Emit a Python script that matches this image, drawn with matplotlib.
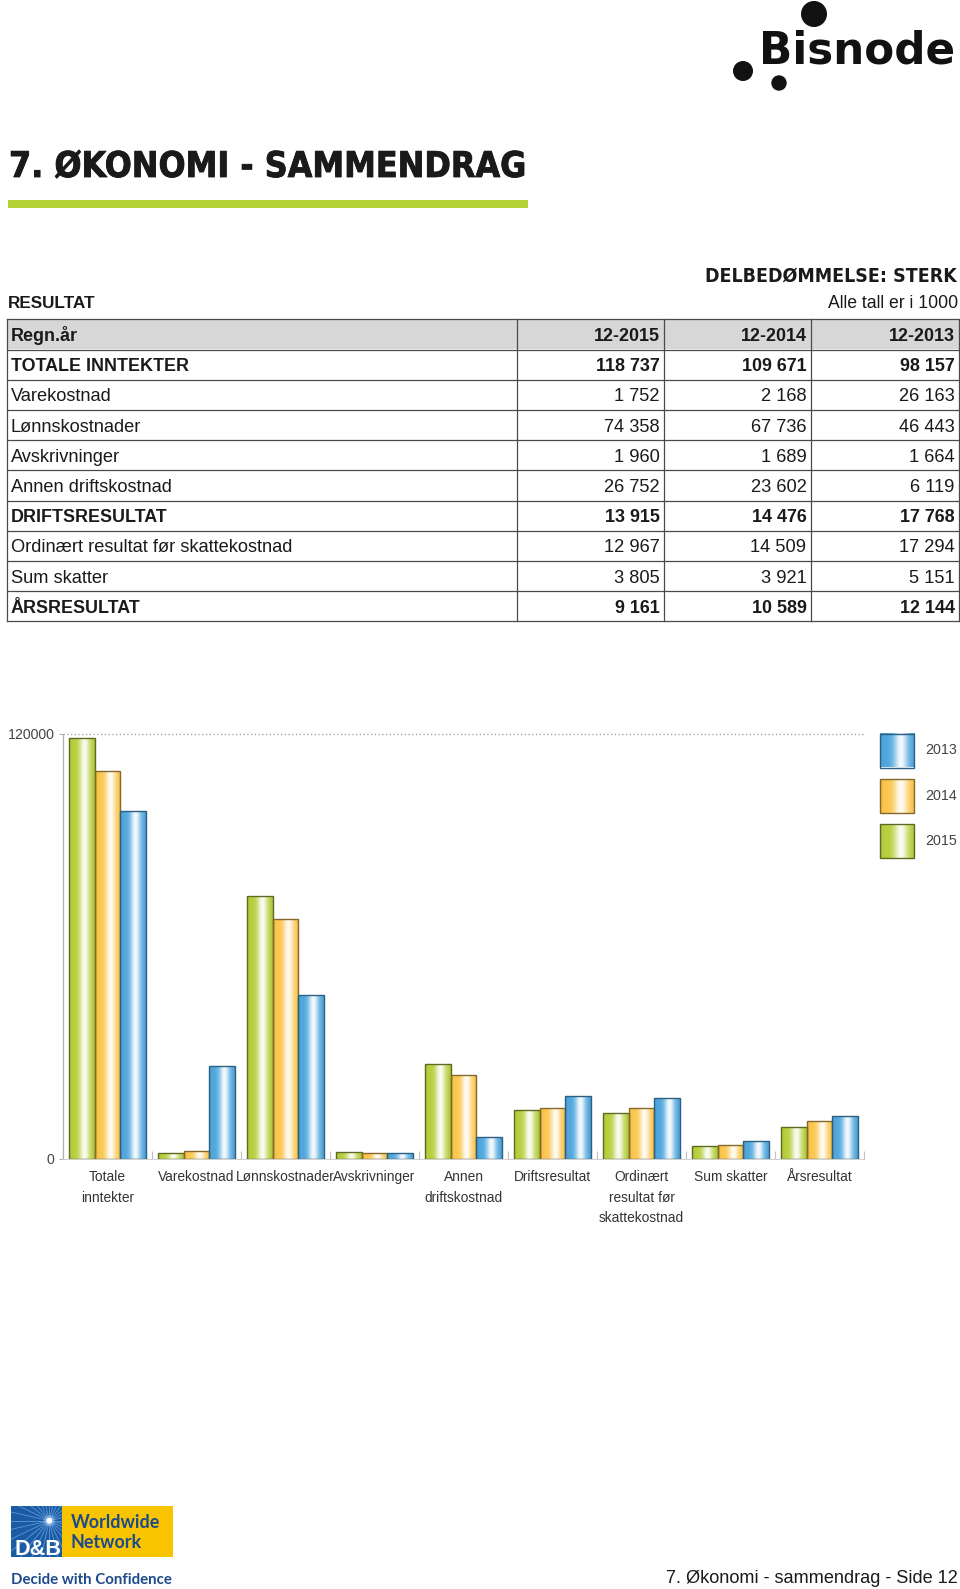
import numpy as np
import matplotlib
matplotlib.use('Agg')
import matplotlib.pyplot as plt
from matplotlib.patches import Rectangle, Circle
from matplotlib import font_manager as fm
from matplotlib.colors import to_rgb
import matplotlib.patheffects as pe

# ---------------- data ----------------
table_columns = ['12-2015', '12-2014', '12-2013']
row_labels = ['TOTALE INNTEKTER', 'Varekostnad', 'Lønnskostnader', 'Avskrivninger',
              'Annen driftskostnad', 'DRIFTSRESULTAT', 'Ordinært resultat før skattekostnad',
              'Sum skatter', 'ÅRSRESULTAT']
bold_rows = ['TOTALE INNTEKTER', 'DRIFTSRESULTAT', 'ÅRSRESULTAT']
values_2015 = [118737, 1752, 74358, 1960, 26752, 13915, 12967, 3805, 9161]
values_2014 = [109671, 2168, 67736, 1689, 23602, 14476, 14509, 3921, 10589]
values_2013 = [98157, 26163, 46443, 1664, 6119, 17768, 17294, 5151, 12144]
chart_categories = ['Totale\ninntekter', 'Varekostnad', 'Lønnskostnader', 'Avskrivninger',
                    'Annen\ndriftskostnad', 'Driftsresultat', 'Ordinært\nresultat før\nskattekostnad',
                    'Sum skatter', 'Årsresultat']
legend_years = ['2013', '2014', '2015']
y_ticks = [0, 120000]

# ---------------- fonts ----------------
fonts = fm.fontManager.ttflist
names = {f.name for f in fonts}
if 'Liberation Sans Narrow' in names:
    COND = dict(family='Liberation Sans Narrow')
elif any(f.name == 'DejaVu Sans' and f.stretch in ('condensed', 'semi-condensed') for f in fonts):
    COND = dict(family='DejaVu Sans', fontstretch='condensed')
else:
    COND = dict(family='Liberation Sans')
SANS = 'Liberation Sans'

W, H = 960, 1589
fig = plt.figure(figsize=(W / 100, H / 100), dpi=100)
bg = fig.add_axes([0, 0, 1, 1])
bg.set_xlim(0, W)
bg.set_ylim(H, 0)
bg.axis('off')
renderer = fig.canvas.get_renderer()


def fit(t, width):
    bb = t.get_window_extent(renderer)
    t.set_fontsize(t.get_fontsize() * width / bb.width)
    return t.get_fontsize()


# ---------------- header: logo + title ----------------
for (cx, cy, r) in [(814, 14, 12.3), (743, 71, 9.3), (779, 83, 7.0)]:
    bg.add_patch(Circle((cx, cy), r, color='#111111', zorder=3))
tb = bg.text(759, 63, 'Bisnode', fontsize=30, fontweight='bold', family='DejaVu Sans',
             color='#111111', ha='left', va='baseline')
fit(tb, 196)

tt = bg.text(9, 177, '7. ØKONOMI - SAMMENDRAG', fontsize=34, fontweight='bold',
             color='#1a1a1a', ha='left', va='baseline', **COND)
fit(tt, 517)
tt.set_path_effects([pe.withStroke(linewidth=0.6, foreground='#1a1a1a')])
bg.add_patch(Rectangle((8, 199.5), 520, 8, color='#b5d236', lw=0))

td = bg.text(957, 282, 'DELBEDØMMELSE: STERK', fontsize=17, fontweight='bold',
             color='#1a1a1a', ha='right', va='baseline', **COND)
fit(td, 251)
tr = bg.text(8, 308, 'RESULTAT', fontsize=13, fontweight='bold', family=SANS,
             color='#1a1a1a', ha='left', va='baseline')
fit(tr, 88)
ta = bg.text(958, 308, 'Alle tall er i 1000', fontsize=13, family=SANS,
             color='#1a1a1a', ha='right', va='baseline')
fit(ta, 131)

# ---------------- table ----------------
tab_top, row_h = 319.3, 30.2
col_x = [7, 517, 664, 811, 959]
n_rows = len(row_labels) + 1
tab_bot = tab_top + n_rows * row_h
bg.add_patch(Rectangle((col_x[0], tab_top), col_x[-1] - col_x[0], row_h,
                       facecolor='#d7d7d7', lw=0, zorder=1))
line_kw = dict(color='#4a4a4a', lw=0.9, zorder=2)
for i in range(n_rows + 1):
    y = tab_top + i * row_h
    bg.plot([col_x[0], col_x[-1]], [y, y], **line_kw)
for x in col_x:
    bg.plot([x, x], [tab_top, tab_bot], **line_kw)

probe = bg.text(0, -100, 'Ordinært resultat før skattekostnad', fontsize=13, family=SANS)
fs_reg = fit(probe, 282)
probe.remove()
probe = bg.text(0, -100, 'TOTALE INNTEKTER', fontsize=13, fontweight='bold', family=SANS)
fs_bold = fit(probe, 178)
probe.remove()


def fmt(v):
    return f'{v:,}'.replace(',', ' ')


def row_text(i, label, vals, bold):
    yb = tab_top + i * row_h + row_h / 2 + 6.6
    kw = dict(family=SANS, color='#1a1a1a', va='baseline',
              fontsize=fs_bold if bold else fs_reg,
              fontweight='bold' if bold else 'normal')
    bg.text(col_x[0] + 4, yb, label, ha='left', **kw)
    for j, v in enumerate(vals):
        bg.text(col_x[j + 2] - 4.5, yb, v, ha='right', **kw)


row_text(0, 'Regn.år', table_columns, True)
for i, lab in enumerate(row_labels):
    vals = [fmt(values_2015[i]), fmt(values_2014[i]), fmt(values_2013[i])]
    row_text(i + 1, lab, vals, lab in bold_rows)

# ---------------- chart ----------------
X0, X1, Y0, Y1 = 63, 864, 734, 1159
ax = fig.add_axes([X0 / W, 1 - Y1 / H, (X1 - X0) / W, (Y1 - Y0) / H])
ax.patch.set_alpha(0)

series = [(values_2015, '#b6cf3c', '#5d6b22'),
          (values_2014, '#fbc64c', '#86682a'),
          (values_2013, '#4fa7dd', '#2c5f82')]
n = len(chart_categories)
x = np.arange(n)
bw = 0.29


def gradient(base, npts=80):
    t = np.linspace(0, 1, npts)
    w = 0.93 * np.exp(-((t - 0.6) / 0.2) ** 2)
    b = np.array(to_rgb(base))
    edge = 1 - 0.06 * np.clip(1 - np.minimum(t, 1 - t) / 0.12, 0, 1)
    cols = b[None, :] * edge[:, None] * (1 - w[:, None]) + w[:, None]
    return np.clip(cols, 0, 1)[None, :, :]


for k, (vals, col, edge) in enumerate(series):
    bars = ax.bar(x + (k - 1) * bw, vals, width=bw, facecolor='none',
                  edgecolor=edge, linewidth=1.0, zorder=3)
    img = gradient(col)
    for p in bars.patches:
        im = ax.imshow(img, extent=[p.get_x(), p.get_x() + p.get_width(), 0, p.get_height()],
                       aspect='auto', zorder=2, interpolation='bilinear')
        im.set_clip_path(p)

ax.set_xlim(-0.5, n - 0.5)
ax.set_ylim(0, 120000)
ax.set_aspect('auto')
ax.axhline(120000, color='#9a9a9a', lw=0.9, ls=(0, (1, 2)), clip_on=False, zorder=1)
for s in ['top', 'right']:
    ax.spines[s].set_visible(False)
ax.spines['left'].set_color('#b0b0b0')
ax.spines['bottom'].set_color('#d0d0d0')
ax.spines['left'].set_linewidth(0.9)
ax.spines['bottom'].set_linewidth(0.8)
ax.set_yticks(y_ticks)
ax.set_yticklabels([str(v) for v in y_ticks], family=SANS, fontsize=10.2, color='#444444')
ax.tick_params(axis='y', length=3, width=0.7, color='#aaaaaa', pad=3)
ax.set_xticks(x)
ax.set_xticklabels(chart_categories, family=SANS, fontsize=9.9, color='#333333',
                   linespacing=1.58, va='top')
ax.set_xticks(np.arange(n + 1) - 0.5, minor=True)
ax.tick_params(axis='x', which='major', length=0, pad=8.2)
ax.tick_params(axis='x', which='minor', direction='in', length=6, width=0.8, color='#c0c0c0')

# legend
leg_cols = {'2013': ('#4fa7dd', '#2c5f82'), '2014': ('#fbc64c', '#86682a'),
            '2015': ('#b6cf3c', '#5d6b22')}
for i, yr in enumerate(legend_years):
    y0 = 733.5 + i * 45.2
    col, edge = leg_cols[yr]
    bg.imshow(gradient(col), extent=[879.5, 914, y0 + 34, y0], aspect='auto',
              zorder=2, interpolation='bilinear')
    bg.add_patch(Rectangle((879.5, y0), 34.5, 34, facecolor='none', edgecolor=edge,
                           lw=1.0, zorder=3))
    bg.text(925, y0 + 17, yr, family=SANS, fontsize=10.3, color='#444444',
            ha='left', va='center')
bg.set_xlim(0, W)
bg.set_ylim(H, 0)

# ---------------- footer: D&B logo ----------------
bg.add_patch(Rectangle((61.7, 1506), 111, 50.7, color='#f8c400', lw=0, zorder=2))
blue_sq = Rectangle((11, 1506), 50.7, 50.7, color='#1b5ba6', lw=0, zorder=2)
bg.add_patch(blue_sq)
cx, cy = 49.3, 1520.7
for ang in np.linspace(0, 2 * np.pi, 28, endpoint=False):
    ln, = bg.plot([cx, cx + 70 * np.cos(ang)], [cy, cy + 70 * np.sin(ang)],
                  color='#6fa6dc', lw=0.6, alpha=0.8, zorder=3)
    ln.set_clip_path(blue_sq)
bg.add_patch(Circle((cx, cy), 5.5, color='#8fc0ec', lw=0, zorder=3, alpha=0.6))
bg.add_patch(Circle((cx, cy), 3.0, color='white', lw=0, zorder=4))
tdb = bg.text(14.5, 1555, 'D&B', family=SANS, fontweight='bold', fontsize=15,
              color='white', ha='left', va='baseline', zorder=5)
fit(tdb, 47)
ww = bg.text(71, 1528.3, 'Worldwide', family='Lato', fontweight='bold', fontsize=12,
             color='#1d4a8a', ha='left', va='baseline', zorder=5)
fit(ww, 89)
nw = bg.text(71, 1548.3, 'Network', family='Lato', fontweight='bold', fontsize=ww.get_fontsize(),
             color='#1d4a8a', ha='left', va='baseline', zorder=5)
dc = bg.text(11, 1584, 'Decide with Confidence', family='Lato', fontweight='bold', fontsize=10,
             color='#1d4a8a', ha='left', va='baseline', zorder=5)
fit(dc, 162)

tf = bg.text(958, 1583, '7. Økonomi - sammendrag - Side 12', family=SANS, fontsize=13,
             color='#1a1a1a', ha='right', va='baseline')
fit(tf, 291)

fig.savefig('out.png', dpi=100)
